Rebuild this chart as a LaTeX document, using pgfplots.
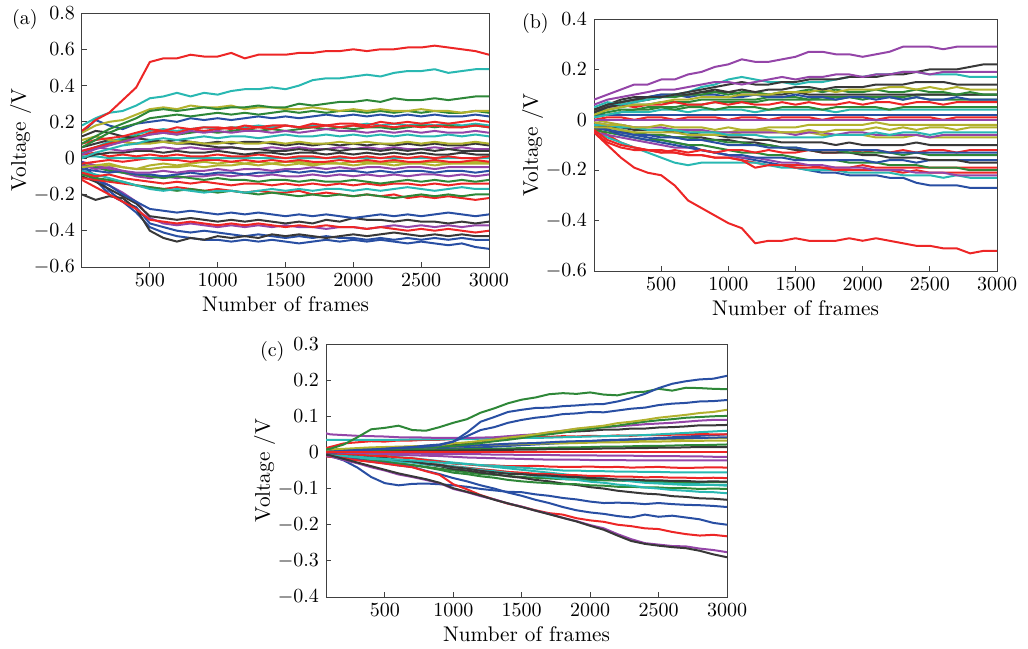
\documentclass[border=0pt]{standalone}
\usepackage{pgfplots}
\usepackage{pgfplotstable}
\pgfplotsset{compat=1.18}

\definecolor{cb}{rgb}{0.16,0.31,0.64}
\definecolor{cg}{rgb}{0.18,0.53,0.22}
\definecolor{cr}{rgb}{0.93,0.15,0.15}
\definecolor{cc}{rgb}{0.16,0.72,0.70}
\definecolor{cm}{rgb}{0.58,0.27,0.66}
\definecolor{cy}{rgb}{0.70,0.70,0.18}
\definecolor{ck}{rgb}{0.22,0.22,0.22}

% one row per trace, one column per frame; transposed below
% (a), (b): units of 0.01 V
\pgfplotstableread{
name 0 100 200 300 400 500 600 700 800 900 1000 1100 1200 1300 1400 1500 1600 1700 1800 1900 2000 2100 2200 2300 2400 2500 2600 2700 2800 2900 3000
a1 15 21 25 32 39 53 55 55 57 56 56 58 55 57 57 57 58 58 59 59 60 59 60 60 61 61 62 61 60 59 57
a2 18 22 25 26 29 33 34 36 34 36 35 37 38 38 39 38 40 43 44 44 45 46 45 47 48 48 49 47 48 49 49
a3 8 12 16 19 22 26 27 26 27 28 27 28 28 29 28 28 30 29 30 31 31 32 31 33 32 32 33 32 33 34 34
a4 14 18 20 21 24 27 28 27 29 28 28 29 27 28 28 27 27 28 27 26 27 26 27 26 26 27 26 26 25 26 26
a5 6 10 14 17 19 22 23 24 23 24 25 24 25 24 25 26 25 26 25 26 26 25 26 25 26 25 26 25 25 26 25
a6 14 21 18 16 19 20 21 20 22 21 22 21 22 23 22 23 22 23 24 23 24 23 24 23 24 23 24 23 23 24 23
a7 8 10 11 12 14 16 15 17 16 17 17 16 18 17 18 18 17 19 18 19 19 18 20 19 20 19 20 19 20 21 20
a8 2 5 7 9 11 13 14 13 15 14 15 14 15 15 14 15 14 15 16 15 15 14 15 14 15 14 15 14 14 15 14
a9 0 3 5 7 8 10 11 10 11 12 11 12 12 11 12 13 12 12 13 12 13 12 13 12 13 12 12 13 12 13 12
a10 4 6 8 9 11 14 15 14 16 15 16 17 16 17 16 18 17 17 18 17 18 17 18 17 18 17 18 17 17 18 17
a11 10 12 10 9 8 8 9 8 9 8 8 9 8 8 9 8 9 8 8 9 8 9 8 8 9 8 9 8 8 9 8
a12 12 15 14 12 11 10 9 8 8 7 6 6 5 5 4 4 5 4 5 4 5 5 4 5 4 5 4 5 4 4 4
a13 4 6 5 4 5 5 6 5 6 5 5 6 5 5 6 5 6 5 5 6 5 6 5 6 5 5 6 5 6 5 5
a14 0 2 3 3 4 4 3 4 3 3 4 3 2 3 3 2 3 3 2 3 2 3 2 3 2 3 2 2 3 2 2
a15 2 3 1 2 1 2 1 2 1 1 2 1 1 2 1 0 1 1 0 1 0 1 0 1 0 1 0 1 0 0 1
a16 1 1 0 0 0 0 0 0 0 0 0 0 0 0 0 0 0 0 0 0 0 0 0 0 0 0 0 0 0 0 0
a17 -3 -2 -1 -2 -1 0 -1 -1 -2 -1 -1 -2 -1 -2 -1 -2 -1 -2 -2 -1 -2 -1 -2 -1 -2 -2 -1 -2 -2 -1 -2
a18 -5 -4 -3 -5 -6 -6 -5 -5 -4 -5 -4 -4 -3 -4 -3 -4 -3 -4 -3 -3 -4 -3 -3 -4 -3 -3 -4 -3 -3 -3 -3
a19 -4 -6 -5 -7 -8 -8 -7 -8 -7 -7 -6 -7 -6 -6 -7 -6 -6 -5 -6 -5 -6 -5 -5 -6 -5 -5 -6 -5 -5 -5 -5
a20 -6 -7 -8 -7 -9 -9 -10 -9 -8 -9 -8 -8 -9 -8 -8 -7 -8 -7 -8 -7 -7 -8 -7 -8 -7 -7 -8 -7 -7 -8 -7
a21 -4 -5 -7 -8 -9 -10 -11 -10 -11 -12 -11 -12 -12 -13 -12 -12 -13 -12 -13 -13 -12 -13 -14 -13 -12 -13 -12 -13 -12 -13 -12
a22 -8 -10 -9 -11 -12 -13 -14 -13 -14 -13 -14 -15 -14 -14 -15 -14 -15 -14 -15 -14 -15 -14 -15 -14 -14 -15 -14 -15 -14 -14 -14
a23 -7 -9 -11 -13 -15 -17 -18 -17 -18 -19 -18 -18 -19 -18 -17 -18 -17 -18 -17 -17 -18 -17 -18 -17 -16 -17 -18 -17 -16 -17 -17
a24 -9 -11 -12 -13 -15 -16 -17 -18 -17 -18 -19 -18 -19 -20 -19 -20 -21 -20 -21 -20 -21 -20 -21 -22 -21 -20 -21 -20 -21 -20 -20
a25 -11 -12 -13 -14 -15 -16 -17 -16 -17 -18 -17 -18 -19 -18 -19 -19 -18 -20 -19 -20 -21 -20 -21 -20 -22 -21 -22 -21 -22 -23 -22
a26 -8 -12 -15 -20 -24 -28 -29 -30 -29 -30 -31 -30 -31 -30 -31 -32 -31 -32 -31 -32 -33 -32 -31 -32 -31 -32 -31 -30 -31 -32 -31
a27 -10 -13 -17 -21 -25 -32 -33 -34 -33 -34 -35 -34 -35 -34 -35 -36 -35 -36 -34 -35 -33 -34 -34 -35 -34 -35 -35 -36 -35 -36 -35
a28 -12 -16 -20 -24 -28 -34 -35 -36 -35 -36 -37 -36 -37 -36 -37 -38 -37 -38 -37 -38 -38 -39 -38 -39 -40 -39 -40 -39 -40 -41 -40
a29 -8 -11 -15 -19 -24 -33 -36 -37 -36 -37 -38 -37 -38 -37 -38 -37 -38 -38 -39 -38 -38 -39 -38 -37 -38 -37 -38 -37 -38 -37 -37
a30 -20 -23 -21 -22 -28 -40 -44 -46 -44 -45 -43 -44 -43 -44 -42 -43 -42 -43 -44 -43 -42 -43 -42 -41 -42 -43 -42 -43 -42 -43 -43
a31 -4 -10 -18 -24 -30 -38 -41 -43 -44 -45 -45 -46 -45 -46 -45 -46 -47 -46 -45 -46 -45 -46 -45 -46 -47 -46 -47 -48 -47 -49 -50
a32 -2 -12 -20 -24 -27 -36 -38 -40 -41 -40 -41 -42 -43 -42 -43 -44 -43 -44 -43 -44 -44 -45 -44 -45 -44 -45 -44 -45 -44 -45 -45
a33 2 6 8 10 12 13 14 13 14 15 14 15 16 15 16 15 16 17 16 17 16 17 17 16 17 18 17 18 17 18 17
a34 6 8 10 9 8 9 9 10 9 8 9 8 9 9 8 7 8 7 8 7 8 7 8 7 8 7 8 7 7 8 7
a35 3 6 9 11 13 15 16 15 16 17 16 17 17 18 17 18 17 18 18 17 18 19 18 19 18 19 18 19 18 19 18
a36 -2 -4 -6 -8 -10 -11 -10 -11 -10 -10 -9 -10 -9 -10 -9 -10 -10 -9 -10 -9 -10 -9 -10 -9 -10 -9 -9 -10 -9 -10 -9
a37 -3 -5 -4 -5 -6 -4 -3 -4 -3 -2 -3 -2 -3 -2 -3 -2 -2 -3 -2 -3 -2 -2 -3 -2 -3 -2 -2 -3 -2 -2 -2
}\rawA
\pgfplotstabletranspose[colnames from=name]\tblA\rawA

\pgfplotstableread{
name 0 100 200 300 400 500 600 700 800 900 1000 1100 1200 1300 1400 1500 1600 1700 1800 1900 2000 2100 2200 2300 2400 2500 2600 2700 2800 2900 3000
b1 8 10 12 14 14 16 16 18 19 21 22 24 23 23 24 25 27 27 26 26 25 26 27 29 29 29 28 29 29 29 29
b2 6 8 9 10 11 12 12 13 14 15 15 14 15 16 17 16 17 17 18 18 17 18 18 19 19 18 19 19 19 19 19
b3 4 6 7 8 9 9 10 11 12 13 14 15 14 14 15 15 16 16 16 17 17 17 18 18 19 20 20 20 21 22 22
b4 5 7 6 7 8 9 10 11 13 14 16 17 16 15 15 14 15 15 16 17 17 18 18 19 19 18 18 18 17 17 17
b5 3 5 6 7 8 9 10 10 11 12 11 12 11 12 12 13 13 12 13 13 13 14 14 14 15 15 15 14 14 14 14
b6 2 4 5 6 6 7 8 8 9 9 9 10 10 10 11 11 11 12 11 12 12 12 13 13 12 13 12 13 12 12 12
b7 4 6 7 8 8 9 9 10 10 11 10 11 11 10 11 11 12 11 12 11 11 12 11 11 12 11 11 10 11 10 10
b8 3 5 7 8 9 10 10 9 10 10 9 9 10 9 9 10 9 9 8 9 9 8 9 8 9 8 8 9 8 8 8
b9 4 5 6 5 6 6 7 6 6 7 6 7 6 6 7 6 7 6 6 7 6 7 7 6 7 7 6 7 7 7 7
b10 2 3 4 4 5 5 4 5 5 4 5 5 5 4 5 5 5 4 5 5 5 5 4 5 5 5 5 5 5 5 5
b11 1 2 3 3 3 4 4 3 4 4 4 4 3 4 4 4 4 4 3 4 4 4 4 4 4 4 4 4 4 4 4
b12 2 2 2 2 2 2 2 2 2 2 2 2 2 2 2 2 2 2 2 2 2 2 2 2 2 2 2 2 2 2 2
b13 0 0 0 0 0 0 0 0 0 0 0 0 0 0 0 0 0 0 0 0 0 0 0 0 0 0 0 0 0 0 0
b14 0 1 1 0 1 1 0 1 1 1 0 1 1 0 1 1 1 0 1 1 1 0 1 1 1 1 0 1 1 1 1
b15 -1 -2 -2 -3 -3 -2 -3 -3 -3 -4 -3 -4 -4 -4 -5 -5 -4 -5 -4 -4 -4 -3 -4 -3 -4 -3 -3 -4 -3 -3 -3
b16 -2 -2 -3 -3 -4 -4 -4 -5 -5 -5 -6 -6 -6 -7 -7 -7 -7 -7 -6 -6 -6 -5 -6 -5 -5 -6 -5 -5 -5 -5 -5
b17 -1 -2 -2 -3 -3 -3 -4 -4 -4 -5 -5 -5 -5 -5 -5 -6 -5 -5 -6 -5 -5 -6 -6 -6 -6 -7 -6 -6 -6 -6 -6
b18 -3 -3 -4 -5 -5 -5 -5 -6 -6 -6 -6 -5 -5 -5 -5 -5 -5 -6 -6 -6 -6 -7 -7 -7 -6 -7 -7 -7 -7 -7 -7
b19 -2 -3 -3 -4 -4 -4 -5 -5 -6 -6 -7 -7 -8 -8 -9 -9 -9 -9 -10 -9 -10 -10 -10 -10 -9 -10 -10 -10 -10 -10 -10
b20 -3 -4 -5 -6 -6 -7 -7 -8 -8 -9 -10 -10 -10 -11 -11 -11 -12 -12 -12 -12 -12 -12 -13 -13 -13 -13 -13 -13 -13 -13 -13
b21 -2 -3 -4 -5 -6 -6 -7 -7 -8 -8 -9 -9 -10 -10 -11 -11 -12 -12 -12 -13 -13 -13 -13 -14 -13 -14 -14 -14 -14 -14 -14
b22 -3 -4 -5 -5 -6 -6 -7 -7 -7 -8 -8 -9 -9 -10 -11 -12 -12 -13 -13 -13 -14 -14 -15 -15 -15 -16 -16 -16 -17 -17 -17
b23 -4 -8 -10 -11 -12 -13 -12 -13 -12 -13 -12 -12 -13 -12 -13 -13 -12 -13 -13 -12 -13 -12 -13 -12 -13 -12 -12 -13 -12 -12 -12
b24 -3 -4 -6 -7 -8 -9 -10 -11 -12 -13 -14 -14 -15 -15 -15 -16 -16 -16 -16 -16 -16 -17 -16 -16 -17 -16 -16 -16 -16 -16 -16
b25 -4 -5 -6 -7 -8 -8 -9 -10 -10 -11 -12 -13 -13 -14 -14 -15 -16 -16 -16 -17 -17 -17 -18 -18 -18 -19 -19 -19 -20 -20 -20
b26 -5 -6 -7 -8 -9 -10 -11 -11 -12 -13 -14 -15 -15 -16 -17 -17 -18 -18 -19 -19 -19 -20 -20 -20 -21 -21 -21 -22 -22 -22 -22
b27 -5 -9 -11 -12 -12 -12 -13 -14 -14 -15 -15 -16 -19 -18 -18 -19 -19 -19 -20 -20 -20 -20 -20 -21 -20 -21 -21 -21 -21 -21 -21
b28 -4 -7 -9 -11 -13 -15 -17 -18 -17 -17 -17 -17 -17 -18 -19 -19 -20 -20 -20 -21 -21 -21 -21 -22 -22 -22 -23 -22 -23 -23 -23
b29 -3 -4 -5 -6 -7 -8 -9 -10 -12 -13 -14 -15 -16 -17 -18 -19 -20 -21 -21 -22 -22 -22 -23 -23 -25 -26 -26 -26 -27 -27 -27
b30 -5 -10 -15 -19 -21 -22 -26 -32 -35 -38 -41 -43 -49 -48 -48 -47 -48 -48 -48 -47 -48 -47 -48 -49 -50 -50 -51 -51 -53 -52 -52
b31 3 4 5 6 6 7 7 7 8 8 8 8 8 9 9 9 8 9 9 9 8 9 9 8 9 8 8 8 8 8 8
b32 4 6 8 9 9 10 10 10 11 11 11 10 10 10 10 11 10 10 10 10 10 10 10 10 10 10 10 10 10 10 10
b33 -3 -6 -9 -11 -12 -13 -13 -14 -14 -15 -15 -16 -17 -18 -18 -18 -18 -19 -19 -19 -18 -19 -19 -19 -19 -19 -19 -19 -19 -19 -19
b34 0 -1 -2 -3 -4 -4 -4 -4 -5 -5 -5 -4 -4 -3 -3 -3 -2 -2 -2 -2 -2 -1 -2 -2 -2 -2 -2 -2 -2 -2 -2
b35 1 2 3 4 4 5 5 6 6 7 7 7 7 8 8 8 8 8 8 9 9 9 9 9 10 10 10 10 10 10 10
}\rawB
\pgfplotstabletranspose[colnames from=name]\tblB\rawB

% (c): units of 0.001 V
\pgfplotstableread{
name 0 100 200 300 400 500 600 700 800 900 1000 1100 1200 1300 1400 1500 1600 1700 1800 1900 2000 2100 2200 2300 2400 2500 2600 2700 2800 2900 3000
c1 0 2 4 7 8 10 13 15 19 22 30 55 85 98 112 118 123 124 128 130 133 134 141 150 162 178 190 197 202 204 212
c2 5 10 22 42 64 68 74 62 60 70 82 92 110 122 136 146 152 161 164 162 166 160 158 166 168 176 171 179 178 176 175
c3 0 2 4 6 8 10 12 14 16 20 30 45 62 70 82 90 96 100 106 108 112 111 116 121 124 131 135 137 141 142 145
c4 0 3 5 8 10 12 14 16 18 20 25 28 32 36 41 45 50 56 60 66 70 74 81 85 90 96 100 104 109 112 118
c5 0 2 4 5 6 8 10 12 14 16 18 22 26 31 35 40 46 50 55 61 65 70 74 80 85 89 92 96 98 100 101
c6 60 50 48 46 45 44 42 42 41 40 40 40 41 42 45 48 50 55 60 65 68 70 72 75 78 80 82 85 88 90 90
c7 0 2 4 6 8 10 12 14 16 18 20 25 30 36 40 45 50 52 56 58 60 63 63 66 66 69 70 72 75 75 76
c8 35 35 35 35 35 35 35 36 36 36 37 37 38 38 39 40 40 41 42 43 44 45 46 47 48 50 52 54 56 58 60
c9 5 15 25 28 31 30 33 33 35 35 37 38 39 40 41 42 43 43 45 44 46 45 47 46 48 48 49 49 51 50 50
c10 0 2 4 6 8 9 10 12 14 15 16 18 20 22 24 25 26 28 30 31 32 34 35 36 37 38 39 40 40 41 42
c11 5 8 10 12 14 15 16 17 18 19 20 20 21 22 22 23 24 25 25 26 27 28 28 29 30 30 31 32 32 33 33
c12 0 0 1 2 2 3 3 4 4 5 5 6 6 7 7 8 8 9 9 10 10 11 11 12 12 13 13 14 15 15 15
c13 0 0 0 0 0 0 0 0 0 0 0 0 0 0 0 0 0 0 0 0 0 0 0 0 0 0 0 0 0 0 0
c14 0 -1 -1 -2 -2 -3 -3 -3 -4 -4 -5 -5 -5 -6 -6 -7 -7 -7 -8 -8 -8 -9 -9 -9 -10 -10 -10 -11 -11 -12 -12
c15 0 1 2 3 4 5 5 6 7 8 8 9 10 10 11 12 12 13 14 14 15 16 16 17 18 18 19 20 20 21 22
c16 -5 -8 -10 -12 -15 -18 -20 -22 -25 -28 -30 -32 -35 -37 -40 -42 -45 -47 -50 -50 -52 -52 -53 -53 -54 -54 -55 -55 -55 -55 -55
c17 0 -2 -5 -6 -9 -10 -14 -16 -21 -25 -31 -33 -36 -36 -38 -38 -37 -39 -40 -40 -39 -41 -40 -42 -41 -40 -42 -43 -42 -41 -42
c18 0 -3 -7 -9 -13 -15 -21 -25 -31 -35 -41 -45 -51 -55 -59 -60 -63 -64 -67 -68 -71 -72 -75 -75 -77 -77 -79 -79 -81 -80 -81
c19 -5 -8 -12 -14 -18 -20 -25 -28 -33 -36 -41 -44 -49 -52 -57 -60 -65 -68 -73 -76 -81 -84 -89 -92 -97 -100 -104 -106 -109 -110 -113
c20 0 -5 -11 -15 -21 -25 -31 -35 -41 -48 -56 -60 -66 -70 -76 -80 -83 -85 -88 -88 -91 -92 -95 -95 -97 -97 -99 -99 -101 -100 -101
c21 -5 -8 -12 -14 -18 -20 -24 -26 -31 -34 -41 -43 -47 -50 -54 -56 -59 -60 -63 -63 -65 -65 -67 -67 -69 -68 -70 -70 -71 -70 -71
c22 0 -3 -7 -10 -15 -18 -23 -27 -33 -38 -46 -50 -56 -60 -66 -70 -76 -80 -86 -90 -96 -100 -106 -110 -114 -116 -121 -123 -127 -128 -131
c23 -5 -10 -22 -42 -68 -85 -91 -87 -86 -88 -91 -95 -101 -105 -109 -110 -116 -120 -126 -130 -136 -140 -139 -140 -143 -140 -143 -145 -146 -148 -151
c24 -8 -12 -16 -20 -26 -30 -36 -40 -51 -60 -71 -80 -91 -100 -111 -120 -131 -140 -151 -160 -166 -170 -176 -180 -172 -178 -175 -180 -185 -195 -200
c25 -8 -12 -16 -22 -26 -31 -36 -41 -52 -62 -88 -102 -118 -130 -142 -150 -160 -168 -172 -182 -188 -192 -200 -204 -210 -212 -220 -226 -230 -228 -232
c26 -5 -10 -21 -30 -41 -50 -61 -68 -76 -85 -101 -110 -121 -130 -141 -150 -161 -170 -181 -190 -201 -210 -226 -240 -251 -255 -259 -260 -266 -270 -276
c27 -3 -8 -18 -28 -38 -48 -58 -66 -74 -84 -99 -109 -119 -131 -141 -151 -161 -171 -181 -191 -203 -214 -230 -245 -253 -258 -262 -265 -272 -282 -290
c28 0 -2 -4 -6 -8 -10 -13 -16 -20 -24 -28 -32 -36 -40 -44 -48 -52 -56 -60 -64 -68 -72 -76 -80 -84 -86 -88 -90 -90 -90 -90
c29 0 -5 -10 -15 -20 -25 -30 -35 -40 -45 -50 -55 -60 -62 -65 -68 -70 -72 -74 -75 -76 -77 -78 -79 -80 -80 -81 -82 -82 -82 -82
c30 0 1 2 3 4 5 6 7 8 9 10 12 14 16 18 20 22 24 26 28 30 32 34 36 38 40 42 44 46 48 50
c31 0 2 4 5 6 7 8 9 10 12 14 16 18 20 22 25 26 27 28 30 31 32 33 34 35 36 37 38 39 40 40
c32 0 -2 -3 -4 -5 -6 -7 -8 -9 -10 -12 -14 -15 -16 -17 -18 -19 -20 -20 -20 -21 -21 -21 -22 -22 -22 -22 -22 -22 -22 -22
c33 -3 -6 -9 -12 -15 -18 -22 -26 -30 -34 -38 -42 -46 -50 -54 -58 -62 -65 -68 -70 -72 -74 -76 -78 -80 -82 -84 -86 -88 -90 -92
}\rawC
\pgfplotstabletranspose[colnames from=name]\tblC\rawC

% table, trace, divisor, colour
\newcommand\ser[4]{\addplot[color=#4] table[x=colnames, y expr=\thisrow{#2}/#3] {#1};}

\pgfplotsset{
  vplot/.style={
    scale only axis,
    xmax=3000,
    xtick={500,1000,1500,2000,2500,3000},
    /pgf/number format/1000 sep={},
    tick align=inside,
    xtick pos=bottom, ytick pos=left,
    major tick length=2.5pt,
    axis line style={black!75, line width=0.5pt},
    tick style={black!75, line width=0.4pt},
    xlabel={Number of frames},
    ylabel={Voltage /V},
    label style={font=\fontsize{10.6}{12}\selectfont},
    xlabel style={yshift=2pt},
    ylabel style={yshift=-5.5pt},
    every axis plot/.append style={line width=1pt, line join=round},
  }
}

\begin{document}
\begin{tikzpicture}
\useasboundingbox (0,0) rectangle (514pt,-324pt);

\begin{axis}[vplot, anchor=north west, at={(41pt,-6.5pt)},
  width=203.5pt, height=127pt, xmin=0, ymin=-0.6, ymax=0.8,
  ytick={-0.6,-0.4,-0.2,0,0.2,0.4,0.6,0.8}]
\ser\tblA{a37}{100}{cy}
\ser\tblA{a36}{100}{cm}
\ser\tblA{a35}{100}{cc}
\ser\tblA{a34}{100}{ck}
\ser\tblA{a33}{100}{cg}
\ser\tblA{a32}{100}{cb}
\ser\tblA{a31}{100}{cb}
\ser\tblA{a30}{100}{ck}
\ser\tblA{a29}{100}{cm}
\ser\tblA{a28}{100}{cr}
\ser\tblA{a27}{100}{ck}
\ser\tblA{a26}{100}{cb}
\ser\tblA{a25}{100}{cr}
\ser\tblA{a24}{100}{cg}
\ser\tblA{a23}{100}{cc}
\ser\tblA{a22}{100}{cr}
\ser\tblA{a21}{100}{cg}
\ser\tblA{a20}{100}{cb}
\ser\tblA{a19}{100}{cm}
\ser\tblA{a18}{100}{cy}
\ser\tblA{a17}{100}{cr}
\ser\tblA{a16}{100}{cc}
\ser\tblA{a15}{100}{cr}
\ser\tblA{a14}{100}{ck}
\ser\tblA{a13}{100}{cm}
\ser\tblA{a12}{100}{ck}
\ser\tblA{a11}{100}{cy}
\ser\tblA{a10}{100}{cr}
\ser\tblA{a9}{100}{cc}
\ser\tblA{a8}{100}{cm}
\ser\tblA{a7}{100}{cr}
\ser\tblA{a6}{100}{cb}
\ser\tblA{a5}{100}{cg}
\ser\tblA{a4}{100}{cy}
\ser\tblA{a3}{100}{cg}
\ser\tblA{a2}{100}{cc}
\ser\tblA{a1}{100}{cr}
\end{axis}

\begin{axis}[vplot, anchor=north west, at={(297pt,-9.5pt)},
  width=201.5pt, height=126pt, xmin=0, ymin=-0.6, ymax=0.4,
  ytick={-0.6,-0.4,-0.2,0,0.2,0.4}]
\ser\tblB{b35}{100}{cg}
\ser\tblB{b34}{100}{cy}
\ser\tblB{b33}{100}{cr}
\ser\tblB{b32}{100}{ck}
\ser\tblB{b31}{100}{cg}
\ser\tblB{b29}{100}{cb}
\ser\tblB{b28}{100}{cc}
\ser\tblB{b27}{100}{cr}
\ser\tblB{b26}{100}{cm}
\ser\tblB{b25}{100}{cg}
\ser\tblB{b24}{100}{cb}
\ser\tblB{b23}{100}{cr}
\ser\tblB{b22}{100}{ck}
\ser\tblB{b21}{100}{cg}
\ser\tblB{b20}{100}{cb}
\ser\tblB{b19}{100}{ck}
\ser\tblB{b18}{100}{cy}
\ser\tblB{b17}{100}{cm}
\ser\tblB{b16}{100}{cc}
\ser\tblB{b15}{100}{cy}
\ser\tblB{b14}{100}{cr}
\ser\tblB{b13}{100}{cm}
\ser\tblB{b12}{100}{cb}
\ser\tblB{b11}{100}{cc}
\ser\tblB{b10}{100}{cg}
\ser\tblB{b9}{100}{cr}
\ser\tblB{b8}{100}{cb}
\ser\tblB{b7}{100}{cg}
\ser\tblB{b6}{100}{cy}
\ser\tblB{b5}{100}{ck}
\ser\tblB{b4}{100}{cc}
\ser\tblB{b3}{100}{ck}
\ser\tblB{b2}{100}{cm}
\ser\tblB{b1}{100}{cm}
\ser\tblB{b30}{100}{cr}
\end{axis}

\begin{axis}[vplot, anchor=north west, at={(163pt,-172pt)},
  width=200.5pt, height=126.5pt, xmin=70, ymin=-0.4, ymax=0.3,
  ytick={-0.4,-0.3,-0.2,-0.1,0,0.1,0.2,0.3}]
\ser\tblC{c33}{1000}{cc}
\ser\tblC{c32}{1000}{cm}
\ser\tblC{c31}{1000}{cy}
\ser\tblC{c30}{1000}{cb}
\ser\tblC{c29}{1000}{cg}
\ser\tblC{c28}{1000}{cc}
\ser\tblC{c22}{1000}{ck}
\ser\tblC{c21}{1000}{cr}
\ser\tblC{c20}{1000}{cg}
\ser\tblC{c19}{1000}{cc}
\ser\tblC{c18}{1000}{ck}
\ser\tblC{c17}{1000}{cr}
\ser\tblC{c16}{1000}{cc}
\ser\tblC{c15}{1000}{cg}
\ser\tblC{c14}{1000}{cm}
\ser\tblC{c12}{1000}{ck}
\ser\tblC{c11}{1000}{cy}
\ser\tblC{c10}{1000}{cb}
\ser\tblC{c9}{1000}{cr}
\ser\tblC{c8}{1000}{cc}
\ser\tblC{c7}{1000}{ck}
\ser\tblC{c6}{1000}{cm}
\ser\tblC{c5}{1000}{cg}
\ser\tblC{c4}{1000}{cy}
\ser\tblC{c3}{1000}{cb}
\ser\tblC{c2}{1000}{cg}
\ser\tblC{c1}{1000}{cb}
\ser\tblC{c23}{1000}{cb}
\ser\tblC{c24}{1000}{cb}
\ser\tblC{c25}{1000}{cr}
\ser\tblC{c26}{1000}{cm}
\ser\tblC{c27}{1000}{ck}
\ser\tblC{c13}{1000}{cr}
\end{axis}

\node[anchor=base west] at (2.5pt,-12.5pt) {(a)};
\node[anchor=base west] at (257.5pt,-14pt) {(b)};
\node[anchor=base west] at (126.5pt,-178pt) {(c)};
\end{tikzpicture}
\end{document}
